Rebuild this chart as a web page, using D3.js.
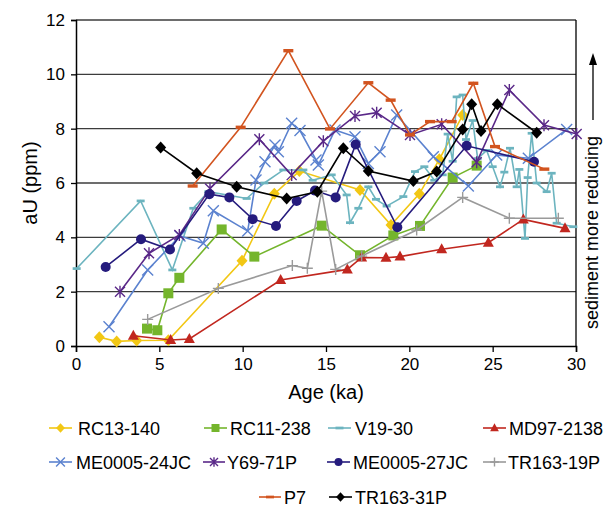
<!DOCTYPE html>
<html>
<head>
<meta charset="utf-8">
<script src="https://cdn.jsdelivr.net/npm/d3@7"></script>
<style>
  body { margin: 0; background: #fff; font-family: "Liberation Sans", Arial, sans-serif; }
</style>
</head>
<body>
<div id="chart"></div>
<script>
// Series values: [age (ka), aU (ppm)]
const rc13_140 = [[1.4,0.32],[2.44,0.17],[3.64,0.2],[5.54,0.21],[9.96,3.14],[11.9,5.6],[13.4,6.44],[17.04,5.74],[18.9,4.45],[20.6,5.6],[21.8,6.87],[23.2,8.5]];
const rc11_238 = [[4.26,0.64],[4.88,0.58],[5.54,1.94],[6.2,2.51],[8.74,4.29],[10.7,3.29],[14.74,4.43],[17.04,3.34],[19.04,4.07],[20.64,4.42],[22.6,6.2],[24.04,6.64]];
const v19_30 = [[0.04,2.85],[3.88,5.34],[5.78,2.8],[7.04,5.07],[7.94,5.68],[10.24,5.43],[11.3,6.0],[12.44,6.48],[13.64,6.48],[14.2,6.1],[15.34,6.3],[16.24,5.56],[16.44,4.54],[16.94,5.07],[17.54,5.86],[18.0,5.4],[18.64,5.15],[19.64,5.5],[20.34,6.42],[20.9,6.6],[21.5,6.1],[22.0,6.3],[22.3,7.8],[22.6,6.8],[22.84,9.17],[23.2,9.24],[23.4,7.6],[23.8,8.3],[24.1,6.9],[24.64,7.2],[25.0,6.6],[25.44,5.86],[25.7,6.4],[26.04,7.28],[26.44,5.86],[26.6,6.5],[26.94,3.96],[27.1,6.2],[27.34,7.83],[27.64,6.0],[28.24,5.68],[28.54,6.36],[28.84,4.52],[29.84,4.39]];
const md97_2138 = [[3.44,0.38],[5.68,0.22],[6.8,0.26],[12.28,2.43],[16.28,2.82],[17.14,3.26],[18.6,3.25],[19.44,3.29],[21.94,3.56],[24.74,3.8],[26.84,4.66],[29.34,4.33]];
const me0005_24jc = [[1.98,0.71],[4.3,2.8],[6.24,4.05],[7.64,3.78],[8.24,4.98],[10.3,4.23],[10.8,6.11],[11.34,6.78],[11.94,7.4],[12.14,7.15],[12.94,8.2],[13.44,7.93],[14.4,6.85],[14.54,6.66],[15.54,7.95],[16.74,7.7],[17.54,6.72],[18.24,7.15],[19.24,8.5],[21.44,6.97],[23.54,5.89],[25.24,7.03],[27.14,6.91],[29.44,7.97]];
const y69_71p = [[2.64,2.0],[4.38,3.41],[6.2,4.09],[8.04,5.8],[11.0,7.61],[12.94,6.29],[14.84,7.54],[16.74,8.47],[18.04,8.59],[20.04,7.77],[21.94,8.16],[24.04,6.76],[26.0,9.42],[28.08,8.13],[30.04,7.8]];
const me0005_27jc = [[1.78,2.91],[3.9,3.93],[5.64,3.55],[8.0,5.59],[9.2,5.47],[10.6,4.67],[12.0,4.42],[13.24,5.34],[14.34,5.72],[15.58,5.47],[16.78,7.42],[19.28,4.37],[23.44,7.37],[27.48,6.78]];
const tr163_19p = [[4.3,0.98],[8.54,2.12],[12.98,2.96],[13.88,2.86],[14.74,5.7],[15.58,2.82],[17.14,3.31],[20.44,4.27],[23.2,5.47],[26.0,4.7],[28.94,4.7]];
const p7 = [[7.0,5.89],[9.88,8.05],[12.74,10.87],[15.24,7.99],[17.54,9.69],[18.88,9.05],[20.04,7.77],[21.24,8.26],[22.54,8.26],[23.84,9.67],[25.14,7.34],[28.1,6.51]];
const tr163_31p = [[5.08,7.31],[7.24,6.36],[9.64,5.86],[12.64,5.43],[14.48,5.68],[16.04,7.28],[17.54,6.44],[20.24,6.07],[21.64,6.42],[23.2,7.97],[23.74,8.9],[24.3,7.91],[25.28,8.9],[27.64,7.85]];

const xTicks = [0, 5, 10, 15, 20, 25, 30];
const yTicks = [0, 2, 4, 6, 8, 10, 12];

const series = [
  { name: "RC13-140",    data: rc13_140,    color: "#f2c714", marker: "diamond" },
  { name: "RC11-238",    data: rc11_238,    color: "#74b52c", marker: "square" },
  { name: "V19-30",      data: v19_30,      color: "#6cb4bf", marker: "dash" },
  { name: "MD97-2138",   data: md97_2138,   color: "#c1271f", marker: "triangle" },
  { name: "ME0005-24JC", data: me0005_24jc, color: "#5b82cf", marker: "times" },
  { name: "Y69-71P",     data: y69_71p,     color: "#5a2888", marker: "asterisk" },
  { name: "ME0005-27JC", data: me0005_27jc, color: "#251b7d", marker: "circle" },
  { name: "TR163-19P",   data: tr163_19p,   color: "#9a9a9a", marker: "plus" },
  { name: "P7",          data: p7,          color: "#d2541f", marker: "dash" },
  { name: "TR163-31P",   data: tr163_31p,   color: "#000000", marker: "diamond" }
];

const margin = { top: 20, right: 38, bottom: 160, left: 76 };
const width = 614 - margin.left - margin.right;
const height = 506 - margin.top - margin.bottom;

const svg = d3.select("#chart")
  .append("svg")
  .attr("width", 614)
  .attr("height", 506);

const g = svg.append("g")
  .attr("transform", `translate(${margin.left},${margin.top})`);

const x = d3.scaleLinear().domain([0, 30]).range([0, width]);
const y = d3.scaleLinear().domain([0, 12]).range([height, 0]);

// gridlines
g.selectAll(".grid")
  .data(yTicks.filter(d => d > 0))
  .enter().append("line")
  .attr("x1", 0).attr("x2", width)
  .attr("y1", d => y(d)).attr("y2", d => y(d))
  .attr("stroke", "#3c3c3c")
  .attr("stroke-width", 1.3);

// right border
g.append("line")
  .attr("x1", width).attr("x2", width)
  .attr("y1", 0).attr("y2", height)
  .attr("stroke", "#000").attr("stroke-width", 1.3);

const xAxis = g.append("g")
  .attr("transform", `translate(0,${height})`)
  .call(d3.axisBottom(x).tickValues(xTicks).tickSize(6).tickPadding(6).tickFormat(d3.format("d")));

const yAxis = g.append("g")
  .call(d3.axisLeft(y).tickValues(yTicks).tickSize(5).tickPadding(6).tickFormat(d3.format("d")));

[xAxis, yAxis].forEach(a => {
  a.select(".domain").attr("stroke", "#000").attr("stroke-width", 1.5);
  a.selectAll(".tick line").attr("stroke", "#000").attr("stroke-width", 1.3);
  a.selectAll(".tick text")
    .attr("fill", "#000")
    .style("font-size", "17px")
    .style("font-family", '"Liberation Sans", Arial, sans-serif');
});

// marker drawing
function drawMarker(sel, type, color, s) {
  s = s || 1;
  if (type === "diamond") {
    sel.append("path").attr("d", `M0,${-6*s}L${5.5*s},0L0,${6*s}L${-5.5*s},0Z`).attr("fill", color);
  } else if (type === "square") {
    sel.append("rect").attr("x", -5*s).attr("y", -5*s).attr("width", 10*s).attr("height", 10*s).attr("fill", color);
  } else if (type === "dash") {
    sel.append("rect").attr("x", -5*s).attr("y", -1.7*s).attr("width", 10*s).attr("height", 3.4*s).attr("fill", color);
  } else if (type === "triangle") {
    sel.append("path").attr("d", `M0,${-6*s}L${5.5*s},${4*s}L${-5.5*s},${4*s}Z`).attr("fill", color);
  } else if (type === "circle") {
    sel.append("circle").attr("r", 5*s).attr("fill", color);
  } else if (type === "times") {
    sel.append("path").attr("d", `M${-5.5*s},${-5.5*s}L${5.5*s},${5.5*s}M${-5.5*s},${5.5*s}L${5.5*s},${-5.5*s}`)
      .attr("stroke", color).attr("stroke-width", 1.4).attr("fill", "none");
  } else if (type === "asterisk") {
    sel.append("path").attr("d", `M${-5*s},${-5*s}L${5*s},${5*s}M${-5*s},${5*s}L${5*s},${-5*s}M0,${-6*s}L0,${6*s}`)
      .attr("stroke", color).attr("stroke-width", 1.4).attr("fill", "none");
  } else if (type === "plus") {
    sel.append("path").attr("d", `M${-5.5*s},0L${5.5*s},0M0,${-5.5*s}L0,${5.5*s}`)
      .attr("stroke", color).attr("stroke-width", 1.4).attr("fill", "none");
  }
}

const line = d3.line().x(d => x(d[0])).y(d => y(d[1]));

series.forEach(s => {
  const sg = g.append("g").attr("class", "series");
  sg.append("path")
    .datum(s.data)
    .attr("d", line)
    .attr("fill", "none")
    .attr("stroke", s.color)
    .attr("stroke-width", 1.6);
  sg.selectAll(".pt")
    .data(s.data)
    .enter().append("g")
    .attr("transform", d => `translate(${x(d[0])},${y(d[1])})`)
    .each(function() { drawMarker(d3.select(this), s.marker, s.color, s.marker === "dash" && s.name === "V19-30" ? 0.8 : 1); });
});

// axis titles
svg.append("text")
  .attr("x", margin.left + width / 2)
  .attr("y", 399)
  .attr("text-anchor", "middle")
  .style("font-size", "20px")
  .text("Age (ka)");

svg.append("text")
  .attr("transform", `translate(37,${margin.top + height / 2}) rotate(-90)`)
  .attr("text-anchor", "middle")
  .style("font-size", "20px")
  .text("aU (ppm)");

// right-hand note with arrow
svg.append("text")
  .attr("transform", "translate(598,329) rotate(-90)")
  .attr("text-anchor", "start")
  .style("font-size", "18px")
  .text("sediment more reducing");

svg.append("line")
  .attr("x1", 593).attr("x2", 593)
  .attr("y1", 120).attr("y2", 62)
  .attr("stroke", "#000").attr("stroke-width", 1.3);
svg.append("path")
  .attr("d", "M593,53L597,65L589,65Z")
  .attr("fill", "#000");

// legend
const legendPos = [
  { x1: 49, x2: 72, tx: 78, ty: 428 },
  { x1: 204, x2: 227, tx: 230, ty: 428 },
  { x1: 328, x2: 351, tx: 355, ty: 428 },
  { x1: 483, x2: 506, tx: 509, ty: 428 },
  { x1: 49, x2: 72, tx: 76, ty: 462 },
  { x1: 203, x2: 225, tx: 227, ty: 462 },
  { x1: 327, x2: 350, tx: 353, ty: 462 },
  { x1: 483, x2: 506, tx: 508, ty: 462 },
  { x1: 259, x2: 281, tx: 284, ty: 497 },
  { x1: 329, x2: 352, tx: 355, ty: 497 }
];

series.forEach((s, i) => {
  const p = legendPos[i];
  const lg = svg.append("g");
  lg.append("line")
    .attr("x1", p.x1).attr("x2", p.x2)
    .attr("y1", p.ty).attr("y2", p.ty)
    .attr("stroke", s.color).attr("stroke-width", 1.6);
  drawMarker(lg.append("g").attr("transform", `translate(${(p.x1 + p.x2) / 2},${p.ty})`), s.marker, s.color, 0.8);
  lg.append("text")
    .attr("x", p.tx)
    .attr("y", p.ty + 6.5)
    .style("font-size", "18px")
    .text(s.name);
});
</script>
</body>
</html>
